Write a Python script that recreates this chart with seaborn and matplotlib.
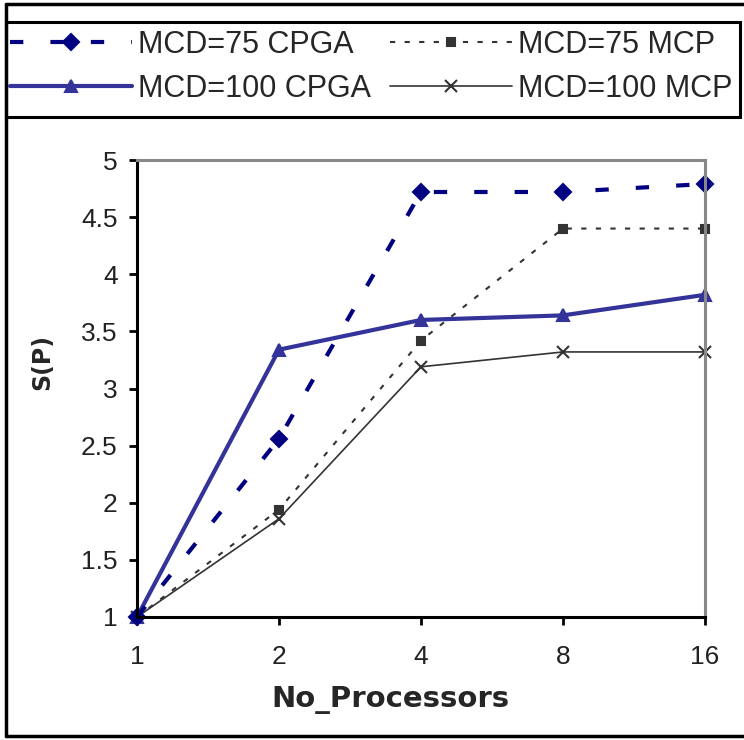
import matplotlib
matplotlib.use("Agg")
import matplotlib.pyplot as plt
import seaborn as sns
import pandas as pd
from matplotlib.lines import Line2D
from matplotlib.patches import Rectangle

# ---- data ----
processors = ["1", "2", "4", "8", "16"]
mcd75_cpga = [1.0, 2.56, 4.72, 4.72, 4.79]
mcd75_mcp = [1.0, 1.94, 3.42, 4.40, 4.40]
mcd100_cpga = [1.0, 3.34, 3.60, 3.64, 3.82]
mcd100_mcp = [1.0, 1.86, 3.19, 3.32, 3.32]
series_names = ["MCD=75 CPGA", "MCD=75 MCP", "MCD=100 CPGA", "MCD=100 MCP"]
y_ticks = [1, 1.5, 2, 2.5, 3, 3.5, 4, 4.5, 5]

sns.set_theme(style="white")
plt.rcParams["font.family"] = ["Liberation Sans", "DejaVu Sans"]

W, H = 744, 740
fig = plt.figure(figsize=(W / 100, H / 100), dpi=100)
fig.patch.set_facecolor("white")

def fx(px):
    return px / W

def fy(py):
    return 1 - py / H

ax = fig.add_axes([fx(137), fy(617), fx(705) - fx(137), fy(160) - fy(617)])
ax.set_facecolor("white")

pos = list(range(len(processors)))
df = pd.DataFrame({"pos": pos, "c75": mcd75_cpga, "m75": mcd75_mcp,
                   "c100": mcd100_cpga, "m100": mcd100_mcp})

styles = {
    "c75": dict(color="#000080", lw=3.0, marker="D", ms=8, ls=(0, (3.2, 6.5))),
    "m75": dict(color="#333333", lw=1.5, marker="s", ms=5.5, ls=(0, (2.5, 4.5))),
    "c100": dict(color="#333399", lw=3.0, marker="^", ms=9, ls="-"),
    "m100": dict(color="#333333", lw=1.2, marker="x", ms=9, ls="-"),
}
order = ["m100", "m75", "c100", "c75"]
handles = {}
for key in order:
    st = styles[key]
    sns.lineplot(data=df, x="pos", y=key, ax=ax, sort=False, errorbar=None,
                 color=st["color"], linewidth=st["lw"], marker=st["marker"],
                 markersize=st["ms"], markeredgecolor=st["color"],
                 markerfacecolor=st["color"], markeredgewidth=1.5,
                 linestyle=st["ls"], clip_on=False)
    handles[key] = Line2D([], [], color=st["color"], lw=st["lw"], marker=st["marker"],
                          ms=st["ms"], mec=st["color"], mfc=st["color"], mew=1.5,
                          ls=st["ls"])

ax.set_xlim(0, len(processors) - 1)
ax.set_ylim(1, 5)
ax.set_xticks(pos)
ax.set_xticklabels(processors)
ax.set_yticks(y_ticks)
ax.set_yticklabels([f"{v:g}" for v in y_ticks])
ax.set_xlabel("")
ax.set_ylabel("")
ax.tick_params(axis="both", which="both", direction="out", length=6, width=2,
               color="black", labelsize=19, labelcolor="#222222", pad=8,
               left=True, bottom=True)
ax.tick_params(axis="x", pad=14)
for side in ["left", "bottom"]:
    ax.spines[side].set_color("black")
    ax.spines[side].set_linewidth(2.2)
for side in ["top", "right"]:
    ax.spines[side].set_visible(True)
    ax.spines[side].set_color("#888888")
    ax.spines[side].set_linewidth(2.2)
ax.grid(False)

fig.text(fx(42), fy(362), "S(P)", rotation=90, ha="center", va="center",
         fontsize=17, fontweight="bold", family=["DejaVu Sans"])
fig.text(fx(390), fy(700), "No_Processors", ha="center", va="center",
         fontsize=21, fontweight="bold", family=["DejaVu Sans"])

# legend
leg = fig.legend([handles["c75"], handles["c100"], handles["m75"], handles["m100"]],
                 ["MCD=75 CPGA", "MCD=100 CPGA", "MCD=75 MCP", "MCD=100 MCP"],
                 ncol=2, loc="center left", bbox_to_anchor=(fx(10), fy(67)),
                 frameon=False, fontsize=22, handlelength=4.0, handletextpad=0.2,
                 columnspacing=0.6, labelspacing=0.45, borderaxespad=0, borderpad=0)

# frames
fig.add_artist(Rectangle((fx(6), fy(117)), fx(740) - fx(6), fy(22) - fy(117),
                         transform=fig.transFigure, fill=False, ec="black", lw=2.2))
fig.add_artist(Line2D([fx(6), fx(6)], [fy(4), fy(736)], transform=fig.transFigure,
                      color="black", lw=2.5))
fig.add_artist(Line2D([fx(6), 1], [fy(4), fy(4)], transform=fig.transFigure,
                      color="black", lw=2.5))
fig.add_artist(Line2D([fx(6), 1], [fy(736), fy(736)], transform=fig.transFigure,
                      color="black", lw=2.5))

fig.savefig("out.png", dpi=100, facecolor="white")
